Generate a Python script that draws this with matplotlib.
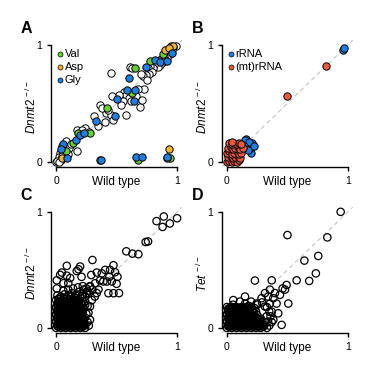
import matplotlib

matplotlib.use("Agg")
import matplotlib.pyplot as plt

plt.rcParams["font.family"] = "Liberation Sans"
plt.rcParams["mathtext.fontset"] = "custom"
plt.rcParams["mathtext.rm"] = "Liberation Sans"
plt.rcParams["mathtext.it"] = "Liberation Sans:italic"

GREEN = "#66d12a"
ORANGE = "#f5b52e"
BLUE = "#1e7fe3"
RED = "#f0583a"

# --- panel A: tRNA (white = other tRNAs) ---
a_white = [
    (0.99, 0.99), (0.97, 0.98), (0.95, 0.99), (0.96, 0.96), (0.93, 0.95), (0.94, 0.92),
    (0.91, 0.93), (0.92, 0.89), (0.89, 0.90), (0.90, 0.87), (0.87, 0.88), (0.88, 0.85),
    (0.85, 0.86), (0.86, 0.83), (0.83, 0.84), (0.84, 0.81), (0.81, 0.83), (0.80, 0.80),
    (0.78, 0.82), (0.76, 0.80), (0.79, 0.77), (0.77, 0.75), (0.74, 0.74), (0.72, 0.73),
    (0.70, 0.75), (0.75, 0.70), (0.61, 0.81), (0.63, 0.80), (0.45, 0.76), (0.73, 0.62),
    (0.56, 0.60), (0.58, 0.57), (0.60, 0.55), (0.62, 0.52), (0.55, 0.52), (0.66, 0.56),
    (0.69, 0.47), (0.71, 0.53), (0.68, 0.62), (0.52, 0.57), (0.54, 0.49), (0.46, 0.56),
    (0.58, 0.40), (0.36, 0.49), (0.41, 0.42), (0.45, 0.40), (0.40, 0.345), (0.35, 0.31),
    (0.31, 0.39), (0.47, 0.36), (0.43, 0.44), (0.38, 0.46), (0.17, 0.27), (0.24, 0.29),
    (0.27, 0.26), (0.21, 0.27), (0.17, 0.096), (0.08, 0.175), (0.05, 0.14), (0.09, 0.13),
    (0.06, 0.10), (0.11, 0.12), (0.03, 0.08), (0.07, 0.06), (0.02, 0.04), (0.04, 0.02),
    (0.00, 0.00), (0.01, 0.01), (0.02, 0.00), (0.05, 0.05), (0.10, 0.07), (0.12, 0.15),
]
a_val = [(0.78, 0.86), (0.65, 0.80), (0.88, 0.92), (0.63, 0.585), (0.42, 0.46),
         (0.18, 0.245), (0.28, 0.25), (0.14, 0.165), (0.08, 0.09), (0.36, 0.015),
         (0.68, 0.02), (0.94, 0.035)]
a_asp = [(0.90, 0.96), (0.97, 0.99), (0.93, 0.97), (0.05, 0.03), (0.93, 0.11), (0.915, 0.03)]
a_gly = [(0.82, 0.87), (0.86, 0.85), (0.92, 0.86), (0.96, 0.93), (0.74, 0.81),
         (0.60, 0.72), (0.585, 0.615), (0.655, 0.615), (0.50, 0.54), (0.64, 0.52),
         (0.33, 0.35), (0.49, 0.39), (0.165, 0.19), (0.20, 0.23), (0.23, 0.245),
         (0.06, 0.153), (0.04, 0.11), (0.09, 0.03), (0.37, 0.02), (0.66, 0.04),
         (0.71, 0.04), (0.92, 0.04)]

# --- panel B: rRNA ---
b_rrna = [(0.16, 0.20), (0.21, 0.16), (0.20, 0.08), (0.15, 0.19), (0.19, 0.12),
          (0.18, 0.17), (0.14, 0.14), (0.17, 0.10), (0.12, 0.13), (0.22, 0.14),
          (0.02, 0.02), (0.01, 0.06), (0.96, 0.96), (0.965, 0.97)]
b_mt = [
    (0.00, 0.00), (0.02, 0.01), (0.04, 0.00), (0.06, 0.01), (0.08, 0.00), (0.10, 0.02),
    (0.01, 0.04), (0.03, 0.05), (0.05, 0.03), (0.07, 0.04), (0.09, 0.05), (0.11, 0.03),
    (0.00, 0.08), (0.02, 0.09), (0.04, 0.07), (0.06, 0.08), (0.08, 0.09), (0.10, 0.07),
    (0.12, 0.08), (0.01, 0.12), (0.03, 0.13), (0.05, 0.11), (0.07, 0.12), (0.09, 0.13),
    (0.11, 0.11), (0.13, 0.12), (0.02, 0.16), (0.04, 0.15), (0.06, 0.16), (0.08, 0.15),
    (0.10, 0.16), (0.12, 0.15), (0.04, 0.17), (0.50, 0.56), (0.82, 0.82),
]

# --- panel C: all small RNAs, Dnmt2 ---
c_points = [
    (0.83, 0.92), (0.89, 0.96), (0.88, 0.87), (0.94, 0.90), (1.0, 0.945), (0.74, 0.74),
    (0.76, 0.745), (0.58, 0.66), (0.63, 0.64), (0.68, 0.635), (0.30, 0.585), (0.198, 0.529),
    (0.17, 0.49), (0.047, 0.477), (0.033, 0.457), (0.088, 0.45), (0.005, 0.41), (0.005, 0.34),
    (0.06, 0.385), (0.10, 0.385), (0.116, 0.43), (0.21, 0.44), (0.29, 0.456), (0.336, 0.477),
    (0.377, 0.47), (0.405, 0.50), (0.446, 0.50), (0.474, 0.54), (0.487, 0.48), (0.44, 0.44),
    (0.363, 0.41), (0.322, 0.385), (0.28, 0.356), (0.39, 0.40), (0.46, 0.40), (0.432, 0.299),
    (0.474, 0.299), (0.52, 0.30), (0.254, 0.299), (0.336, 0.30), (0.295, 0.24), (0.28, 0.185),
    (0.267, 0.13), (0.28, 0.07), (0.24, 0.026), (0.35, 0.33), (0.226, 0.33), (0.088, 0.535),
    (0.185, 0.505), (0.50, 0.38), (0.507, 0.44), (0.42, 0.40), (0.32, 0.27),
    (0.00, 0.00), (0.02, 0.01), (0.04, 0.00), (0.06, 0.01), (0.08, 0.00), (0.10, 0.01),
    (0.12, 0.00), (0.14, 0.01), (0.16, 0.00), (0.18, 0.01), (0.20, 0.00), (0.22, 0.01),
    (0.24, 0.00), (0.01, 0.03), (0.03, 0.04), (0.05, 0.03), (0.07, 0.04), (0.09, 0.03),
    (0.11, 0.04), (0.13, 0.03), (0.15, 0.04), (0.17, 0.03), (0.19, 0.04), (0.21, 0.03),
    (0.23, 0.04), (0.00, 0.06), (0.02, 0.07), (0.04, 0.06), (0.06, 0.07), (0.08, 0.06),
    (0.10, 0.07), (0.12, 0.06), (0.14, 0.07), (0.16, 0.06), (0.18, 0.07), (0.20, 0.06),
    (0.22, 0.07), (0.01, 0.09), (0.03, 0.10), (0.05, 0.09), (0.07, 0.10), (0.09, 0.09),
    (0.11, 0.10), (0.13, 0.09), (0.15, 0.10), (0.17, 0.09), (0.19, 0.10), (0.21, 0.09),
    (0.00, 0.12), (0.02, 0.13), (0.04, 0.12), (0.06, 0.13), (0.08, 0.12), (0.10, 0.13),
    (0.12, 0.12), (0.14, 0.13), (0.16, 0.12), (0.18, 0.13), (0.20, 0.12), (0.22, 0.13),
    (0.01, 0.15), (0.03, 0.16), (0.05, 0.15), (0.07, 0.16), (0.09, 0.15), (0.11, 0.16),
    (0.13, 0.15), (0.15, 0.16), (0.17, 0.15), (0.19, 0.16), (0.21, 0.15), (0.23, 0.17),
    (0.00, 0.18), (0.02, 0.19), (0.04, 0.18), (0.06, 0.19), (0.08, 0.18), (0.10, 0.19),
    (0.12, 0.18), (0.14, 0.19), (0.16, 0.18), (0.18, 0.19), (0.20, 0.18), (0.24, 0.20),
    (0.01, 0.21), (0.03, 0.22), (0.05, 0.21), (0.07, 0.22), (0.09, 0.21), (0.11, 0.22),
    (0.13, 0.21), (0.15, 0.22), (0.17, 0.21), (0.19, 0.22), (0.22, 0.23), (0.00, 0.24),
    (0.02, 0.25), (0.05, 0.24), (0.08, 0.25), (0.11, 0.24), (0.14, 0.25), (0.17, 0.24),
    (0.20, 0.26), (0.24, 0.27), (0.01, 0.28), (0.04, 0.27), (0.07, 0.29), (0.10, 0.28),
    (0.13, 0.30), (0.16, 0.28), (0.19, 0.31), (0.22, 0.29), (0.26, 0.32), (0.06, 0.32),
    (0.10, 0.33), (0.14, 0.34), (0.18, 0.35), (0.22, 0.36), (0.25, 0.34), (0.28, 0.36),
    (0.30, 0.33), (0.27, 0.30), (0.24, 0.23), (0.26, 0.19), (0.25, 0.12), (0.24, 0.09),
    (0.26, 0.05), (0.27, 0.02),
    # second pass through the saturated core
    (0.01, 0.015), (0.03, 0.02), (0.05, 0.015), (0.07, 0.02), (0.09, 0.015), (0.11, 0.02),
    (0.13, 0.015), (0.15, 0.02), (0.17, 0.015), (0.19, 0.02), (0.21, 0.015), (0.23, 0.02),
    (0.00, 0.05), (0.02, 0.045), (0.04, 0.05), (0.06, 0.045), (0.08, 0.05), (0.10, 0.045),
    (0.12, 0.05), (0.14, 0.045), (0.16, 0.05), (0.18, 0.045), (0.20, 0.05), (0.22, 0.045),
    (0.01, 0.08), (0.03, 0.075), (0.05, 0.08), (0.07, 0.075), (0.09, 0.08), (0.11, 0.075),
    (0.13, 0.08), (0.15, 0.075), (0.17, 0.08), (0.19, 0.075), (0.21, 0.08), (0.23, 0.075),
    (0.00, 0.11), (0.02, 0.105), (0.04, 0.11), (0.06, 0.105), (0.08, 0.11), (0.10, 0.105),
    (0.12, 0.11), (0.14, 0.105), (0.16, 0.11), (0.18, 0.105), (0.20, 0.11), (0.22, 0.105),
    (0.01, 0.14), (0.03, 0.135), (0.05, 0.14), (0.07, 0.135), (0.09, 0.14), (0.11, 0.135),
    (0.13, 0.14), (0.15, 0.135), (0.17, 0.14), (0.19, 0.135), (0.21, 0.14),
    (0.00, 0.17), (0.02, 0.165), (0.04, 0.17), (0.06, 0.165), (0.08, 0.17), (0.10, 0.165),
    (0.12, 0.17), (0.14, 0.165), (0.16, 0.17), (0.18, 0.165), (0.20, 0.17), (0.22, 0.165),
    (0.01, 0.20), (0.03, 0.195), (0.05, 0.20), (0.07, 0.195), (0.09, 0.20), (0.11, 0.195),
    (0.13, 0.20), (0.15, 0.195), (0.17, 0.20), (0.19, 0.195), (0.21, 0.20),
    (0.02, 0.23), (0.05, 0.225), (0.08, 0.23), (0.11, 0.225), (0.14, 0.23), (0.17, 0.225),
    (0.03, 0.26), (0.06, 0.255), (0.09, 0.26), (0.12, 0.27), (0.15, 0.265), (0.18, 0.28),
]

# --- panel D: all small RNAs, Tet ---
d_points = [
    (0.94, 1.00), (0.50, 0.80), (0.83, 0.78), (0.755, 0.62), (0.64, 0.58), (0.735, 0.47),
    (0.68, 0.405), (0.576, 0.41), (0.37, 0.41), (0.231, 0.408), (0.493, 0.37), (0.48, 0.33),
    (0.46, 0.34), (0.355, 0.33), (0.397, 0.30), (0.314, 0.30), (0.438, 0.285), (0.34, 0.27),
    (0.286, 0.256), (0.383, 0.256), (0.41, 0.21), (0.507, 0.21), (0.355, 0.21), (0.314, 0.184),
    (0.424, 0.126), (0.37, 0.14), (0.328, 0.10), (0.383, 0.069), (0.34, 0.054), (0.452, 0.026),
    (0.27, 0.069), (0.149, 0.27), (0.052, 0.24), (0.20, 0.227), (0.107, 0.227), (0.245, 0.21),
    (0.00, 0.00), (0.02, 0.01), (0.04, 0.00), (0.06, 0.01), (0.08, 0.00), (0.10, 0.01),
    (0.12, 0.00), (0.14, 0.01), (0.16, 0.00), (0.18, 0.01), (0.20, 0.00), (0.22, 0.01),
    (0.24, 0.00), (0.26, 0.01), (0.28, 0.00), (0.30, 0.01), (0.33, 0.00), (0.01, 0.03),
    (0.03, 0.04), (0.05, 0.03), (0.07, 0.04), (0.09, 0.03), (0.11, 0.04), (0.13, 0.03),
    (0.15, 0.04), (0.17, 0.03), (0.19, 0.04), (0.21, 0.03), (0.23, 0.04), (0.25, 0.03),
    (0.27, 0.04), (0.29, 0.03), (0.32, 0.05), (0.00, 0.06), (0.02, 0.07), (0.04, 0.06),
    (0.06, 0.07), (0.08, 0.06), (0.10, 0.07), (0.12, 0.06), (0.14, 0.07), (0.16, 0.06),
    (0.18, 0.07), (0.20, 0.06), (0.22, 0.07), (0.24, 0.06), (0.26, 0.07), (0.28, 0.08),
    (0.01, 0.09), (0.03, 0.10), (0.05, 0.09), (0.07, 0.10), (0.09, 0.09), (0.11, 0.10),
    (0.13, 0.09), (0.15, 0.10), (0.17, 0.09), (0.19, 0.10), (0.21, 0.09), (0.23, 0.10),
    (0.25, 0.11), (0.00, 0.12), (0.02, 0.13), (0.04, 0.12), (0.06, 0.13), (0.08, 0.12),
    (0.10, 0.13), (0.12, 0.12), (0.14, 0.13), (0.16, 0.12), (0.18, 0.13), (0.20, 0.12),
    (0.22, 0.13), (0.24, 0.14), (0.01, 0.15), (0.03, 0.16), (0.05, 0.15), (0.07, 0.16),
    (0.09, 0.15), (0.11, 0.16), (0.13, 0.15), (0.15, 0.16), (0.17, 0.15), (0.19, 0.16),
    (0.21, 0.15), (0.23, 0.17), (0.00, 0.18), (0.02, 0.17), (0.04, 0.18), (0.06, 0.17),
    (0.08, 0.18), (0.10, 0.17), (0.12, 0.18), (0.14, 0.17), (0.16, 0.18), (0.18, 0.19),
    (0.20, 0.18), (0.05, 0.20), (0.15, 0.21), (0.25, 0.20), (0.29, 0.22), (0.33, 0.18),
    (0.35, 0.14), (0.36, 0.10), (0.37, 0.05), (0.35, 0.02),
    # second pass through the saturated core
    (0.01, 0.015), (0.03, 0.02), (0.05, 0.015), (0.07, 0.02), (0.09, 0.015), (0.11, 0.02),
    (0.13, 0.015), (0.15, 0.02), (0.17, 0.015), (0.19, 0.02), (0.21, 0.015), (0.23, 0.02),
    (0.25, 0.015), (0.27, 0.02), (0.29, 0.015), (0.31, 0.025),
    (0.00, 0.05), (0.02, 0.045), (0.04, 0.05), (0.06, 0.045), (0.08, 0.05), (0.10, 0.045),
    (0.12, 0.05), (0.14, 0.045), (0.16, 0.05), (0.18, 0.045), (0.20, 0.05), (0.22, 0.045),
    (0.24, 0.05), (0.26, 0.045), (0.28, 0.05),
    (0.01, 0.08), (0.03, 0.075), (0.05, 0.08), (0.07, 0.075), (0.09, 0.08), (0.11, 0.075),
    (0.13, 0.08), (0.15, 0.075), (0.17, 0.08), (0.19, 0.075), (0.21, 0.08), (0.23, 0.075),
    (0.25, 0.08), (0.00, 0.11), (0.02, 0.105), (0.04, 0.11), (0.06, 0.105), (0.08, 0.11),
    (0.10, 0.105), (0.12, 0.11), (0.14, 0.105), (0.16, 0.11), (0.18, 0.105), (0.20, 0.11),
    (0.22, 0.105), (0.01, 0.14), (0.03, 0.135), (0.05, 0.14), (0.07, 0.135), (0.09, 0.14),
    (0.11, 0.135), (0.13, 0.14), (0.15, 0.135), (0.17, 0.14), (0.19, 0.135), (0.21, 0.14),
    (0.01, 0.165), (0.03, 0.17), (0.05, 0.165), (0.07, 0.17), (0.09, 0.165), (0.11, 0.17),
    (0.13, 0.165), (0.15, 0.17), (0.17, 0.165), (0.19, 0.17), (0.21, 0.165),
]

LIM = (-0.04, 1.04)
S = 28


def style(ax, ylabel, letter, lx, ly):
    ax.set_xlim(LIM)
    ax.set_ylim(LIM)
    ax.plot(LIM, LIM, ls=(0, (4, 3)), color="#c4c4c4", lw=0.8, zorder=0)
    for side in ("top", "right"):
        ax.spines[side].set_visible(False)
    for side in ("left", "bottom"):
        ax.spines[side].set_bounds(0, 1)
        ax.spines[side].set_linewidth(1.0)
    ax.set_xticks([0, 1])
    ax.set_yticks([0, 1])
    ax.set_xticklabels(["0", "1"])
    ax.set_yticklabels(["0", "1"])
    ax.tick_params(length=3, width=1.0, pad=3.5, labelsize=7.5)
    ax.text(0.5, -0.145, "Wild type", transform=ax.get_xaxis_transform(),
            ha="center", va="baseline", fontsize=8.5)
    ax.text(-0.15, 0.47, ylabel, transform=ax.transAxes, rotation=90,
            ha="center", va="center", fontsize=8.5)
    ax.figure.text(lx, ly, letter, fontsize=11.5, fontweight="bold", va="baseline")


def pts(ax, data, face, lw=0.7, z=2):
    xs, ys = zip(*data)
    ax.scatter(xs, ys, s=S, facecolor=face, edgecolor="black", linewidth=lw, zorder=z)


def legend(ax, items):
    for i, (name, col) in enumerate(items):
        y = 0.923 - i * 0.11
        ax.scatter([0.035], [y], s=13, facecolor=col, edgecolor="black",
                   linewidth=0.5, zorder=5)
        ax.text(0.07, y, name, ha="left", va="center", fontsize=8)


fig = plt.figure(figsize=(3.83, 3.72), dpi=100)
axA = fig.add_axes([0.134, 0.552, 0.341, 0.340])
axB = fig.add_axes([0.580, 0.552, 0.341, 0.340])
axC = fig.add_axes([0.134, 0.106, 0.341, 0.337])
axD = fig.add_axes([0.580, 0.106, 0.341, 0.337])

dnmt2 = r"$\mathit{Dnmt2}^{\,-/-}$"
tet = r"$\mathit{Tet}^{\,-/-}$"

style(axA, dnmt2, "A", 0.054, 0.910)
pts(axA, a_white, "white")
pts(axA, a_val, GREEN, z=3)
pts(axA, a_asp, ORANGE, z=3)
pts(axA, a_gly, BLUE, z=3)
legend(axA, [("Val", GREEN), ("Asp", ORANGE), ("Gly", BLUE)])

style(axB, dnmt2, "B", 0.500, 0.910)
pts(axB, b_rrna, BLUE)
pts(axB, b_mt, RED, z=3)
legend(axB, [("rRNA", BLUE), ("(mt)rRNA", RED)])

style(axC, dnmt2, "C", 0.052, 0.462)
pts(axC, c_points, "none", lw=0.9)

style(axD, tet, "D", 0.500, 0.462)
pts(axD, d_points, "none", lw=0.9)

fig.savefig("out.png", dpi=100)
plt.close(fig)
